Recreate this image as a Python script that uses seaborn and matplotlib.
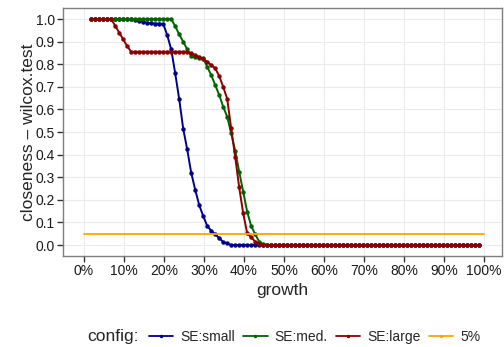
import numpy as np
import pandas as pd
import seaborn as sns
import matplotlib
matplotlib.use("Agg")
import matplotlib.pyplot as plt
from matplotlib.lines import Line2D
from matplotlib.ticker import FuncFormatter

# growth steps (percent)
growth = list(np.arange(1, 99) + 0.8)

se_small = ([1.0] * 11 +
            [0.998, 0.992, 0.988, 0.983, 0.981, 0.980, 0.980, 0.979,
             0.929, 0.866, 0.760, 0.646, 0.515, 0.423, 0.320, 0.245,
             0.177, 0.128, 0.085, 0.063, 0.047, 0.031, 0.013, 0.007] +
            [0.0] * 63)

se_med = ([1.0] * 21 +
          [0.969, 0.932, 0.900, 0.866, 0.836, 0.830, 0.829, 0.826,
           0.789, 0.752, 0.708, 0.664, 0.612, 0.568, 0.494, 0.417,
           0.324, 0.236, 0.147, 0.084, 0.047, 0.015, 0.004] +
          [0.0] * 54)

se_large = ([1.0] * 6 +
            [0.97, 0.94, 0.91, 0.88] +
            [0.855] * 15 +
            [0.848, 0.840, 0.833, 0.824, 0.811, 0.796, 0.782, 0.748,
             0.700, 0.647, 0.516, 0.390, 0.255, 0.140, 0.052, 0.034,
             0.015, 0.004] +
            [0.0] * 55)

threshold_x = [0, 100]
threshold_y = [0.05, 0.05]

configs = ["SE:small", "SE:med.", "SE:large"]
colors = {"SE:small": "#00008B", "SE:med.": "#006400", "SE:large": "#8B0000", "5%": "#FFA500"}

df = pd.DataFrame({
    "growth": growth * 3,
    "value": se_small + se_med + se_large,
    "config": np.repeat(configs, len(growth)),
})

sns.set_style("whitegrid")
plt.rcParams["font.family"] = ["Liberation Sans", "DejaVu Sans"]

fig = plt.figure(figsize=(5.04, 3.47), dpi=100)
ax = fig.add_axes([0.125, 0.262, 0.871, 0.715])

sns.lineplot(data=df, x="growth", y="value", hue="config", palette=colors,
             hue_order=configs, marker="o", markersize=3.2, markeredgewidth=0,
             linewidth=1.4, ax=ax, legend=False)
sns.lineplot(x=threshold_x, y=threshold_y, color=colors["5%"], linewidth=1.3, ax=ax)

ax.set_xlim(-5.25, 104.5)
ax.set_ylim(-0.049, 1.049)
ax.set_xticks(range(0, 101, 10))
ax.set_yticks(np.arange(0, 1.01, 0.1))
ax.xaxis.set_major_formatter(FuncFormatter(lambda v, p: f"{v:.0f}%"))
ax.yaxis.set_major_formatter(FuncFormatter(lambda v, p: f"{v:.1f}"))
ax.tick_params(axis="both", labelsize=10, length=4, width=1, color="#333333",
               labelcolor="#1a1a1a", pad=2, bottom=True, left=True)
ax.grid(True, color="#ebebeb", linewidth=0.8)
for s in ax.spines.values():
    s.set_color("#7f7f7f")
    s.set_linewidth(1)

ax.set_xlabel("growth", fontsize=12.5, labelpad=3)
ax.set_ylabel("closeness \u2013 wilcox.test", fontsize=12.5)
ax.yaxis.set_label_coords(-0.062, 0.5)

handles = [Line2D([], [], color=colors[c], marker="o", markersize=2.5,
                  markeredgewidth=0, linewidth=1.3) for c in configs + ["5%"]]
fig.text(87 / 504, 1 - 337 / 347, "config:", fontsize=12.5, va="center", ha="left")
fig.legend(handles, configs + ["5%"], loc="center left",
           bbox_to_anchor=(149 / 504, 1 - 337 / 347), ncol=4, frameon=False,
           fontsize=10, handlelength=1.75, handletextpad=0.5, columnspacing=0.6,
           borderaxespad=0, borderpad=0)

fig.savefig("out.png", dpi=100)
